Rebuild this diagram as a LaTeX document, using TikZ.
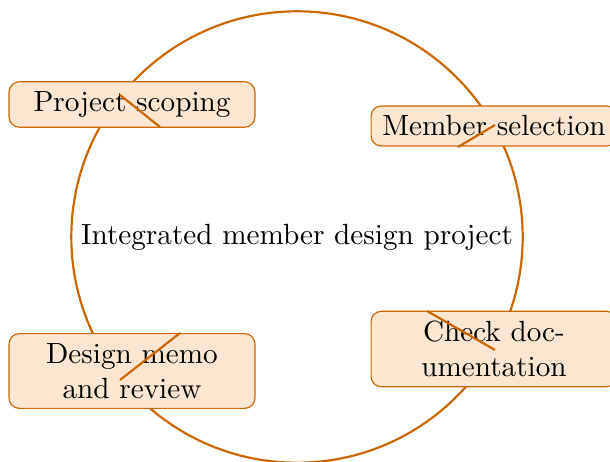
\documentclass[tikz,border=0pt]{standalone}
\usetikzlibrary{positioning}

\definecolor{ringcol}{RGB}{204,102,0}
\definecolor{boxfill}{RGB}{253,230,209}

\tikzstyle{step box} = [draw=ringcol,fill=boxfill,rounded corners=3.5pt,minimum width=84.2pt,align=center]
\tikzstyle{ring} = [draw=ringcol,line width=0.75pt]

\begin{document}
\begin{tikzpicture}[x=0.3425pt,y=-0.3425pt]
		\useasboundingbox (0,0) rectangle (610,461);
		\coordinate (c) at (297,237);
		\draw[ring] (c) circle [radius=77.3pt];
		\node (title) at (c) {Integrated member design project};
		\node[step box] (n1) at (132,104.5) {Project scoping};
		\node[step box] (n2) at (494,126) {Member selection};
		\node[step box] (n3) at (494,349) {Check doc-\\umentation};
		\node[step box] (n4) at (132,371) {Design memo\\and review};
		% short strokes over the boxes
		\coordinate (a1) at (120,95);   \coordinate (b1) at (160,127);
		\coordinate (a2) at (495,125);  \coordinate (b2) at (458,147);
		\coordinate (a3) at (427,311);  \coordinate (b3) at (495,350);
		\coordinate (a4) at (180,333);  \coordinate (b4) at (120,380);
		\draw[ring] (a1) -- (b1);
		\draw[ring] (a2) -- (b2);
		\draw[ring] (a3) -- (b3);
		\draw[ring] (a4) -- (b4);
		\end{tikzpicture}
\end{document}
